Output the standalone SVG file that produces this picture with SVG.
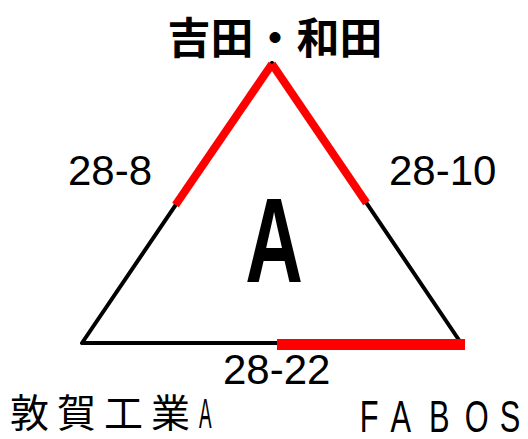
<svg xmlns="http://www.w3.org/2000/svg" width="528" height="439" viewBox="0 0 528 439">
<style>
.lat{font-family:"Liberation Sans",Arial,sans-serif;fill:#000}
.jp{font-family:"Noto Sans CJK JP","Noto Sans CJK SC",sans-serif;fill:#000}
.blk{stroke:#000;stroke-width:4;fill:none;stroke-linejoin:round;stroke-linecap:round}
.red{stroke:#ff0000;fill:none;stroke-linecap:butt}
</style>
<rect width="528" height="439" fill="#fff"/>
<g id="connectors">
<polyline class="blk" points="272,63 82,343 461,343 272,63"/>
<line class="red" x1="272" y1="64" x2="175.5" y2="205" stroke-width="8"/>
<line class="red" x1="272" y1="64" x2="366.5" y2="203" stroke-width="8"/>
<line class="red" x1="277" y1="344.5" x2="465" y2="344.5" stroke-width="11"/>
</g>
<g id="node-top"><text class="jp" x="275" y="54" font-size="43" font-weight="bold" text-anchor="middle">吉田・和田</text></g>
<g id="label-left"><text class="lat" x="68" y="185" font-size="42">28-8</text></g>
<g id="label-right"><text class="lat" x="389" y="185" font-size="42">28-10</text></g>
<g id="label-bottom"><text class="lat" x="223" y="384" font-size="42">28-22</text></g>
<g id="center"><text class="lat" transform="translate(274,282) scale(0.66,1)" x="0" y="0" font-size="121" font-weight="bold" text-anchor="middle">A</text></g>
<g id="node-left"><text class="jp" x="10" y="427" font-size="39" letter-spacing="8">敦賀工業</text><text class="lat" transform="translate(199,428) scale(0.45,1)" font-size="42">A</text></g>
<g id="node-right"><text class="lat" transform="translate(0,432) scale(0.7,1)" font-size="44"><tspan x="514">F</tspan><tspan x="558">A</tspan><tspan x="613">B</tspan><tspan x="664">O</tspan><tspan x="714">S</tspan></text></g>
</svg>
